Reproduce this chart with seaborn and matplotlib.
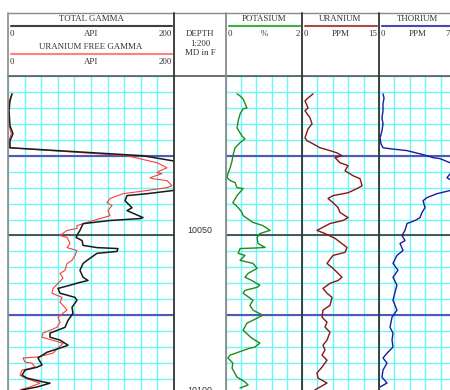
import numpy as np
import matplotlib
matplotlib.use("Agg")
import matplotlib.pyplot as plt
import seaborn as sns

# ---------------- data ----------------
tg_depth = [10005.6,10007.8,10010.9,10015.6,10018.1,10020.3,10022.5,10025.0,10026.6,10028.1,10031.3,10034.4,10035.9,10036.9,10037.5,10039.1,10041.3,10042.2,10044.4,10044.7,10045.3,10046.3,10048.4,10049.4,10050.6,10051.6,10053.1,10053.8,10054.1,10055.0,10055.6,10057.8,10058.8,10060.9,10063.1,10064.1,10064.7,10065.6,10066.6,10068.1,10069.4,10070.3,10072.5,10074.4,10076.6,10078.8,10080.6,10081.9,10082.8,10084.4,10085.3,10086.6,10088.4,10090.6,10091.3,10092.2,10093.8,10094.7,10095.9,10096.3,10097.5,10098.4]
tg_api = [4.8,2.4,1.2,2.4,6.0,2.4,2.4,162.7,198.8,215,225,215,198.8,167.5,143.4,141,149.4,143.4,162.7,159,122.9,90.4,86.7,84.3,82,89.2,90.4,107.2,132.5,131.3,107.2,95.2,90.4,86.7,90.4,96.4,86.7,74.7,60.2,62.7,80.7,83.1,77.1,78.3,72.3,68.7,50.6,50.6,62.7,72.3,62.7,47,36.1,41,34.9,20.5,16.9,22.9,42.2,50.6,34.9,16.9]

ufg_depth = [10005.6,10007.8,10010.9,10015.6,10018.1,10020.3,10022.5,10025.0,10027.2,10028.1,10028.8,10029.7,10030.3,10030.6,10031.9,10032.2,10032.8,10034.4,10035.0,10035.9,10036.9,10038.4,10039.7,10040.6,10042.2,10043.8,10044.7,10045.9,10046.9,10047.8,10048.4,10050.0,10050.6,10052.5,10053.8,10054.7,10056.3,10057.8,10058.8,10060.9,10061.9,10063.4,10066.6,10068.1,10069.4,10070.9,10071.9,10073.4,10075.6,10077.2,10078.8,10080.6,10081.9,10082.8,10083.8,10085.3,10086.9,10087.5,10088.1,10088.4,10089.7,10090.0,10091.3,10092.2,10093.8,10094.7,10096.3,10097.5,10098.4]
ufg_api = [5,1.5,0.5,1.5,4,1.2,1.5,143.4,179.5,186.7,191.6,183.1,179.5,185.5,171.1,174.7,191.6,197.6,191.6,167.5,138.6,122.9,119.3,125.3,120.5,122.9,110.8,95.2,83.1,83.1,71.1,62.7,71.1,74.7,71.1,83.1,80.7,77.1,71.1,68.7,62.7,66.3,54.2,53,65.1,62.7,66.3,71.1,60.2,62.7,59,42.2,41,53,66.3,60.2,54.2,44.6,34.9,18.1,20.5,28.9,32.5,16.9,14.5,20.5,38.6,26.5,14.5]

k_depth = [10005.6,10006.25,10007.2,10010.0,10010.3,10011.9,10014.1,10016.3,10018.8,10019.7,10020.9,10022.5,10025.0,10026.6,10028.75,10030.6,10031.9,10032.8,10033.4,10035.0,10035.3,10037.5,10039.7,10041.25,10042.8,10043.75,10045.9,10046.9,10048.4,10049.4,10050.6,10052.5,10053.75,10053.9,10054.1,10055.6,10056.25,10057.8,10058.75,10060.3,10061.9,10063.1,10064.1,10065.6,10066.25,10067.2,10068.1,10070.3,10071.9,10073.4,10075.0,10075.9,10077.5,10079.7,10082.2,10083.75,10085.0,10085.3,10087.5,10088.4,10090.0,10091.6,10094.4,10095.9,10096.9,10097.8]
k_pct = [0.29,0.37,0.45,0.55,0.45,0.37,0.32,0.29,0.42,0.50,0.37,0.24,0.18,0.16,0.11,0.05,0.03,0.11,0.24,0.29,0.45,0.29,0.18,0.32,0.42,0.45,0.71,0.97,1.16,0.89,0.82,0.84,1.03,0.82,0.37,0.32,0.50,0.37,0.71,0.82,0.58,0.50,0.68,0.89,0.82,0.50,0.45,0.71,0.63,0.71,0.97,0.82,0.55,0.45,0.68,0.89,0.76,0.63,0.11,0.05,0.18,0.16,0.29,0.50,0.58,0.37]

u_depth = [10005.6,10006.9,10007.8,10010.0,10010.9,10013.1,10015.0,10016.6,10019.4,10020.3,10021.25,10022.5,10023.4,10024.1,10025.0,10025.6,10027.2,10028.1,10029.7,10031.25,10032.2,10034.4,10035.3,10036.6,10037.5,10038.4,10039.7,10041.25,10042.8,10044.4,10045.3,10046.25,10048.4,10049.4,10050.9,10053.75,10055.3,10056.25,10058.75,10060.3,10063.1,10064.1,10065.0,10066.6,10068.1,10069.4,10071.9,10073.4,10075.6,10077.2,10078.75,10080.3,10082.8,10084.4,10085.9,10087.5,10089.1,10091.25,10093.1,10094.7,10096.25,10097.5,10098.4]
u_ppm = [2.14,1.17,0.58,1.17,0.58,1.56,1.95,1.17,0.58,0.97,2.14,3.51,5.46,6.82,7.80,6.43,7.41,8.97,8.38,9.94,11.31,11.70,10.72,8.97,6.04,5.07,6.04,7.02,7.41,8.97,7.99,5.46,2.92,4.48,6.43,8.77,8.38,6.04,4.87,6.04,7.80,7.02,5.46,4.09,4.87,5.85,5.46,4.09,3.90,4.87,4.48,5.46,4.87,4.09,4.48,3.90,4.87,3.90,2.92,3.12,4.87,3.51,2.53]

th_depth = [10005.6,10006.9,10008.75,10010.9,10013.1,10015.0,10017.2,10019.4,10021.25,10022.5,10022.8,10023.4,10024.4,10025.0,10025.6,10025.9,10027.2,10028.75,10031.9,10032.8,10034.4,10035.9,10036.9,10038.1,10039.1,10041.25,10042.8,10044.4,10045.3,10046.25,10048.4,10050.0,10051.6,10052.5,10054.7,10056.25,10058.75,10060.9,10063.1,10065.6,10067.8,10070.3,10073.4,10075.6,10078.75,10080.6,10082.8,10085.0,10086.9,10088.4,10090.0,10092.2,10094.4,10096.25,10097.5]
th_ppm = [3.9,4.9,3.9,3.9,2.9,3.9,2.9,1.0,1.9,3.9,10.7,27.3,39.9,46.8,52.6,59.4,69.2,74,66.2,71,77,69.2,56.5,46.8,42.9,44.8,41.9,39.9,35.1,27.3,25.3,22.4,25.3,20.5,23.4,17.5,13.6,18.5,13.6,17.5,15.6,13.6,17.5,12.7,10.7,13.6,12.7,13.6,7.8,3.9,7.8,3.9,2.9,7.8,1.0]

marker_depths = [10025, 10075]
depth_labels = [10050, 10100]

# ---------------- style ----------------
sns.set_theme(style="white")
plt.rcParams["font.family"] = ["Liberation Serif", "DejaVu Serif"]

W, H = 450, 390
fig = plt.figure(figsize=(W / 100, H / 100), dpi=100)
fig.patch.set_facecolor("white")

TOP, HDR_BOT, BOT = 13, 76, 390
edges = [8, 174, 226, 302, 379, 456]
DTOP, DBOT = 10000.3, 10098.44

GRID = "#6ef5f5"
TXT = "#333333"


def px_axes(x0, x1, y0, y1, **kw):
    return fig.add_axes([x0 / W, 1 - y1 / H, (x1 - x0) / W, (y1 - y0) / H], **kw)


def track(x0, x1, lo, hi, ndiv):
    ax = px_axes(x0, x1, HDR_BOT, BOT)
    ax.set_xlim(lo, hi)
    ax.set_ylim(DBOT, DTOP)
    ax.set_xticks(np.linspace(lo, hi, ndiv + 1))
    ax.set_yticks(np.arange(10000, 10100, 5))
    ax.grid(True, color=GRID, lw=1.0)
    ax.tick_params(length=0, labelbottom=False, labelleft=False)
    for s in ax.spines.values():
        s.set_visible(False)
    for d in marker_depths:
        ax.axhline(d, color="#5656b4", lw=1.5, zorder=1.5)
    for d in depth_labels:
        ax.axhline(d, color="#3a3a3a", lw=1.2, zorder=1.5)
    ax.set_facecolor("white")
    return ax


def curve(ax, vals, depths, color, lw):
    sns.lineplot(x=vals, y=depths, orient="y", estimator=None, sort=False,
                 ax=ax, color=color, lw=lw, zorder=3)
    ax.set_xlabel("")
    ax.set_ylabel("")


ax1 = track(edges[0], edges[1], 0, 200, 10)
curve(ax1, ufg_api, ufg_depth, "#ff3b3b", 0.8)
curve(ax1, tg_api, tg_depth, "#1a1a1a", 1.1)

axd = px_axes(edges[1], edges[2], HDR_BOT, BOT)
axd.set_ylim(DBOT, DTOP)
axd.set_xlim(0, 1)
axd.axis("off")
for d in depth_labels:
    axd.text(0.5, d - 1.3, str(d), ha="center", va="center", fontsize=6.4,
             family=["Liberation Sans", "DejaVu Sans"], color=TXT, clip_on=False)

axk = track(edges[2], edges[3], 0, 2, 5)
curve(axk, k_pct, k_depth, "#1f8c1f", 1.0)

axu = track(edges[3], edges[4], 0, 15, 5)
curve(axu, u_ppm, u_depth, "#8b1414", 1.0)

axt = track(edges[4], edges[5], 0, 75, 5)
curve(axt, th_ppm, th_depth, "#1c1ca0", 1.0)

# ---------------- header / frame overlay ----------------
ov = fig.add_axes([0, 0, 1, 1], zorder=10)
ov.patch.set_alpha(0)
ov.set_xlim(0, W)
ov.set_ylim(H, 0)
ov.axis("off")

ov.plot([edges[0], edges[-1]], [TOP, TOP], color="#8a8a8a", lw=1.0)
ov.plot([edges[0], edges[-1]], [HDR_BOT, HDR_BOT], color="#555555", lw=1.2)
ov.plot([edges[0], edges[0]], [TOP, BOT], color="#8a8a8a", lw=1.2)
for x, c in zip(edges[1:5], ["#333333", "#8a8a8a", "#333333", "#333333"]):
    ov.plot([x, x], [TOP, BOT], color=c, lw=1.3)

FS = 6.4


def header_block(x0, x1, ytitle, title, color, lo, unit, hi):
    cx = (x0 + x1) / 2
    ov.text(cx, ytitle, title, ha="center", va="center", fontsize=FS, color=TXT)
    ov.plot([x0 + 3, x1 - 2], [ytitle + 7, ytitle + 7], color=color, lw=1.5)
    yv = ytitle + 14.3
    ov.text(x0 + 2, yv, lo, ha="left", va="center", fontsize=FS, color=TXT)
    ov.text(cx, yv, unit, ha="center", va="center", fontsize=FS, color=TXT)
    ov.text(x1 - 2, yv, hi, ha="right", va="center", fontsize=FS, color=TXT)


header_block(edges[0], edges[1], 19.3, "TOTAL GAMMA", "#404040", "0", "API", "200")
header_block(edges[0], edges[1], 47.3, "URANIUM FREE GAMMA", "#ff8080", "0", "API", "200")
header_block(edges[2], edges[3], 19.3, "POTASIUM", "#3cb03c", "0", "%", "2")
header_block(edges[3], edges[4], 19.3, "URANIUM", "#b04848", "0", "PPM", "15")
header_block(edges[4], edges[5], 19.3, "THORIUM", "#4848b4", "0", "PPM", "75")

dcx = (edges[1] + edges[2]) / 2
for yy, t in zip([34.5, 44.0, 53.3], ["DEPTH", "1:200", "MD in F"]):
    ov.text(dcx, yy, t, ha="center", va="center", fontsize=FS, color=TXT)

fig.savefig("out.png", dpi=100, facecolor="white")
